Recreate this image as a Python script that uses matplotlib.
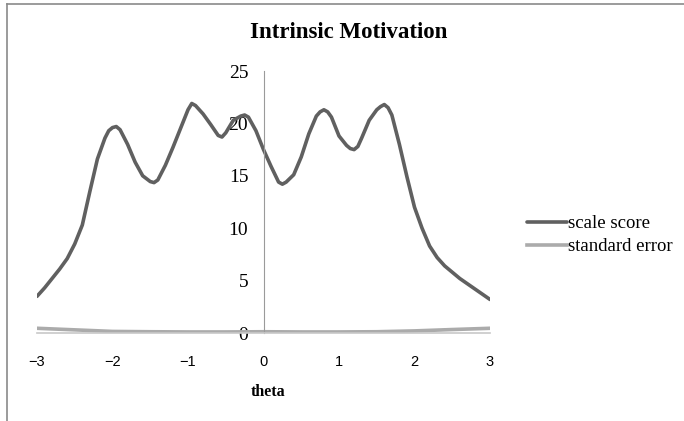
import matplotlib
matplotlib.use('Agg')
import matplotlib.pyplot as plt
from matplotlib.lines import Line2D

# values
theta = [-3.0, -2.9, -2.8, -2.7, -2.6, -2.5, -2.4, -2.3, -2.2, -2.1,
         -2.05, -2.0, -1.95, -1.9, -1.8, -1.7, -1.6, -1.5, -1.45, -1.4,
         -1.3, -1.2, -1.1, -1.0, -0.95, -0.9, -0.8, -0.7, -0.6, -0.55,
         -0.5, -0.4, -0.3, -0.25, -0.2, -0.1, 0.0, 0.1, 0.2, 0.25,
         0.3, 0.4, 0.5, 0.6, 0.7, 0.75, 0.8, 0.85, 0.9, 1.0,
         1.1, 1.15, 1.2, 1.25, 1.3, 1.4, 1.5, 1.55, 1.6, 1.65,
         1.7, 1.8, 1.9, 2.0, 2.1, 2.2, 2.3, 2.4, 2.5, 2.6,
         2.7, 2.8, 2.9, 3.0]
scale_score = [3.5, 4.3, 5.2, 6.1, 7.1, 8.5, 10.3, 13.5, 16.6, 18.6,
               19.3, 19.6, 19.7, 19.4, 18.0, 16.3, 15.0, 14.45, 14.35, 14.6,
               16.0, 17.7, 19.5, 21.3, 21.9, 21.7, 20.9, 19.9, 18.85, 18.7,
               19.1, 20.3, 20.7, 20.8, 20.6, 19.3, 17.5, 15.9, 14.4, 14.2,
               14.4, 15.1, 16.8, 19.0, 20.7, 21.1, 21.3, 21.1, 20.6, 18.8,
               17.9, 17.6, 17.5, 17.8, 18.6, 20.3, 21.3, 21.6, 21.8, 21.5,
               20.8, 18.0, 14.9, 12.0, 10.0, 8.3, 7.2, 6.4, 5.8, 5.2,
               4.7, 4.2, 3.7, 3.2]
theta_se = [-3.0, -2.5, -2.0, -1.5, -1.0, -0.5, 0.0, 0.5, 1.0, 1.5, 2.0, 2.5, 3.0]
std_error = [0.45, 0.3, 0.15, 0.12, 0.1, 0.1, 0.12, 0.1, 0.1, 0.12, 0.2, 0.33, 0.45]

yticks = [0, 5, 10, 15, 20, 25]
xticks = [-3, -2, -1, 0, 1, 2, 3]

serif = 'Liberation Serif'
sans = 'Liberation Sans'

fig = plt.figure(figsize=(6.84, 4.21), dpi=100)
ax = fig.add_axes([37/684, 1-333/421, 453/684, 262/421])

ax.plot(theta, scale_score, color='#606060', lw=2.6, label='scale score',
        solid_capstyle='round', solid_joinstyle='round')
ax.plot(theta_se, std_error, color='#ababab', lw=2.6, label='standard error',
        solid_joinstyle='round')

ax.set_xlim(-3, 3)
ax.set_ylim(0, 25)
ax.spines['top'].set_visible(False)
ax.spines['right'].set_visible(False)
ax.spines['left'].set_position(('data', 0))
ax.spines['left'].set_color('#9a9a9a')
ax.spines['left'].set_linewidth(0.8)
ax.spines['bottom'].set_color('#c8c8c8')
ax.spines['bottom'].set_linewidth(1.2)

ax.set_yticks(yticks)
ax.set_yticklabels([str(v) for v in yticks], fontfamily=serif, fontsize=14)
ax.tick_params(axis='y', length=0, pad=11)
ax.set_xticks(xticks)
ax.set_xticklabels([str(v).replace('-', '\u2212') for v in xticks],
                   fontfamily=sans, fontsize=10.5)
ax.tick_params(axis='x', length=0, pad=16)
ax.set_xlabel('theta', fontfamily=serif, fontweight='bold', fontsize=11.5)
ax.xaxis.set_label_coords(0.51, -0.195)

fig.text(349/684, 1-33/421, 'Intrinsic Motivation', fontfamily=serif,
         fontweight='bold', fontsize=16.5, ha='center', va='center')

ax.legend(loc='center left', bbox_to_anchor=(1.045, 0.373), frameon=False,
          prop={'family': serif, 'size': 13.5}, handlelength=2.1,
          handletextpad=0.05, labelspacing=0.3)

# outer chart frame (only top and left visible)
fig.add_artist(Line2D([7/684, 1], [1-4/421, 1-4/421], color='#8a8a8a', lw=1.2))
fig.add_artist(Line2D([7/684, 7/684], [0, 1-4/421], color='#8a8a8a', lw=1.2))

fig.savefig('out.png', dpi=100)
